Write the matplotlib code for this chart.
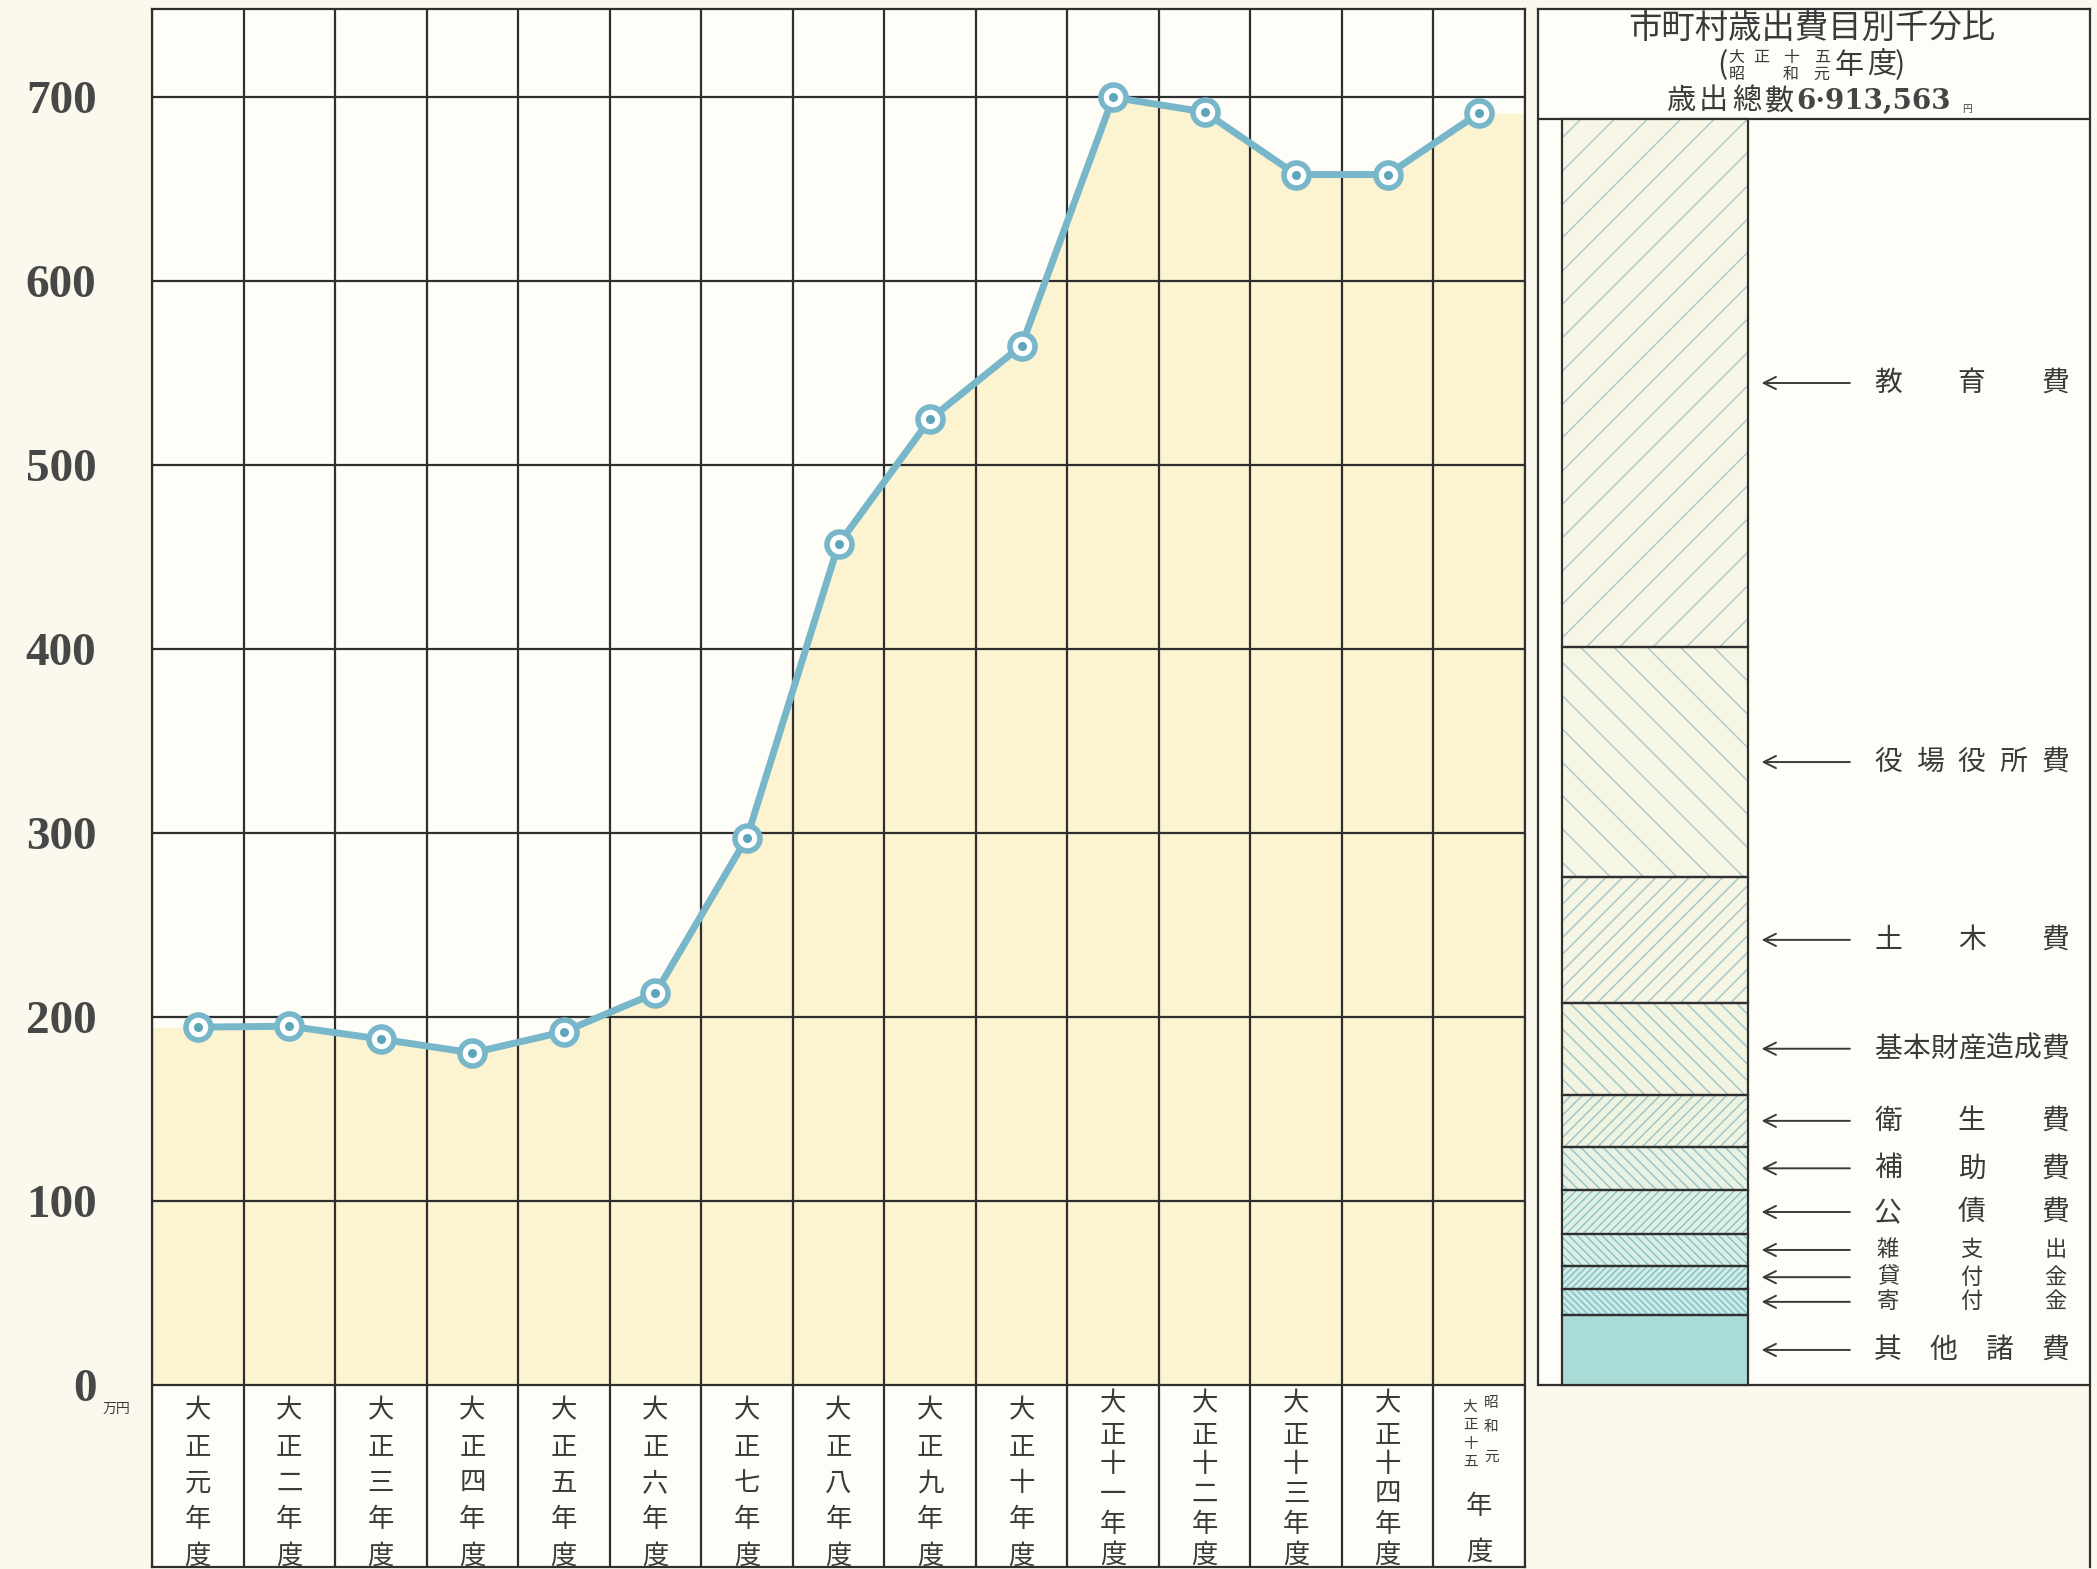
import numpy as np
import matplotlib.pyplot as plt

plt.rcParams['font.family'] = ['Noto Sans CJK JP', 'DejaVu Sans']
plt.rcParams['hatch.linewidth'] = 1.0

# 市町村歳出総額 (万円) by fiscal year
year_labels = ['大正元年度', '大正二年度', '大正三年度', '大正四年度', '大正五年度',
               '大正六年度', '大正七年度', '大正八年度', '大正九年度', '大正十年度',
               '大正十一年度', '大正十二年度', '大正十三年度', '大正十四年度', '年度']
expend = [194.5, 195, 188, 180.5, 192, 213, 297.5, 457, 525, 565,
          700, 692, 658, 658, 691.5]
yticks = [0, 100, 200, 300, 400, 500, 600, 700]

# 大正十五年度(昭和元年度) 歳出費目別千分比
items = ['教育費', '役場役所費', '土木費', '基本財産造成費', '衛生費', '補助費',
         '公債費', '雑支出', '貸付金', '寄付金', '其他諸費']
permille = [417, 182, 99, 73, 41, 34, 35, 25, 18, 21, 55]
total_yen = '6·913,563'

ink = '#3a3a3a'
grid = '#2f2f2f'
teal = '#78b7ca'
teal_dark = '#5da5b8'
W, H = 2097, 1569

fig = plt.figure(figsize=(W / 100, H / 100), dpi=100, facecolor='#fbf9ee')

# ---- main chart ----
ax = fig.add_axes([152 / W, 2 / H, 1373 / W, 1558 / H])
ax.set_facecolor('#fefdf7')
n = len(expend)
ax.set_xlim(0, n)
ax.set_ylim(-99, 748)

x = np.arange(n) + 0.5
ax.fill_between(np.r_[0, x, n], np.r_[expend[0], expend, expend[-1]], 0,
                color='#fcf3d1', lw=0, zorder=0)
ax.hlines(yticks, 0, n, color=grid, lw=1.6, zorder=1)
ax.vlines(np.arange(n + 1), -99, 748, color=grid, lw=1.6, zorder=1)
ax.plot(x, expend, color=teal, lw=5, zorder=3)
ax.plot(x, expend, 'o', ms=18, mfc='white', mec=teal, mew=4, zorder=4)
ax.plot(x, expend, 'o', ms=6.5, mfc=teal_dark, mec='none', zorder=5)

ax.set_xticks([])
ax.set_yticks(yticks)
ax.set_yticklabels([str(v) for v in yticks], fontfamily='Liberation Serif',
                   fontweight='bold', fontsize=34, color='#474747')
ax.tick_params(axis='y', length=0, pad=40)
for s in ax.spines.values():
    s.set_color(grid)
    s.set_linewidth(1.6)
ax.text(-0.026, -13, '万円', transform=ax.get_yaxis_transform(),
        ha='center', va='center', fontsize=10, color=ink)

# year labels, written vertically in each cell
for i, lab in enumerate(year_labels[:-1]):
    if len(lab) == 5:
        ys = np.linspace(-14, -93, 5)
    else:
        ys = np.linspace(-10.5, -92.5, len(lab))
    for ch, yy in zip(lab, ys):
        ax.text(i + 0.5, yy, ch, ha='center', va='center', fontsize=19, color=ink)
# last column: 大正十五 / 昭和元 side by side, then 年度
for ch, yy in zip('大正十五', [-12, -22, -32, -42]):
    ax.text(n - 0.6, yy, ch, ha='center', va='center', fontsize=10.5, color=ink)
for ch, yy in zip('昭和元', [-10, -23, -39]):
    ax.text(n - 0.37, yy, ch, ha='center', va='center', fontsize=10.5, color=ink)
for ch, yy in zip(year_labels[-1], [-66, -91]):
    ax.text(n - 0.5, yy, ch, ha='center', va='center', fontsize=19, color=ink)

# ---- per-mille panel ----
pn = fig.add_axes([1538 / W, 2 / H, 552 / W, 1558 / H])
pn.set_facecolor('none')
pn.set_xlim(0, 1)
pn.set_ylim(-144, 1087)
pn.set_xticks([])
pn.set_yticks([])
pn.axhspan(0, 1087, color='#fefdf8', zorder=0)
for s in pn.spines.values():
    s.set_color(grid)
    s.set_linewidth(1.6)
pn.spines['bottom'].set_visible(False)
pn.spines['left'].set_bounds(0, 1087)
pn.axhline(0, color=grid, lw=1.6, zorder=1)
pn.axhline(1000, color=grid, lw=1.6, zorder=1)

p = np.array(permille)
tops = p.sum() - np.r_[0, np.cumsum(p)[:-1]]
bottoms = tops - p

hatches = ['/', '\\', '//', '\\\\', '///', '\\\\\\', '////', '\\\\\\\\',
           '/////', '\\\\\\\\\\', '']
faces = ['#f7f6e6', '#f6f6e4', '#f4f5e2', '#f2f4e0', '#eef3e0', '#e9f2e2',
         '#e2f0e4', '#dbeee6', '#d3ece6', '#cbe9e5', '#a9dcd7']
hcols = ['#a9c7c9', '#a9c6c8', '#a4c5c8', '#9fc4c7', '#99c3c7', '#92c2c8',
         '#8cc2c8', '#86c1c8', '#80c0c8', '#7bbfc8', '#a9dcd7']
bx, bw = 0.212, 0.337
for v, b, h, fc, hc in zip(p, bottoms, hatches, faces, hcols):
    pn.bar(bx, v, bottom=b, width=bw, color=fc, edgecolor=hc, hatch=h, lw=0, zorder=2)
pn.bar(bx, p, bottom=bottoms, width=bw, color='none', edgecolor=grid, lw=1.6, zorder=3)

for name, b, v in zip(items, bottoms, p):
    yc = b + v / 2
    pn.annotate('', xy=(0.40, yc), xytext=(0.57, yc),
                arrowprops=dict(arrowstyle='->', color=ink, lw=1.4, mutation_scale=22))
    # the three thin bands sit close together, so their labels are set smaller
    fs = 20 if v > 30 else 16
    for ch, xx in zip(name, np.linspace(0.634, 0.937, len(name))):
        pn.text(xx, yc, ch, ha='center', va='center', fontsize=fs, color=ink)

# panel title
pn.text(0.496, 1072, '市町村歳出費目別千分比', ha='center', va='center',
        fontsize=24, color=ink)
pn.text(0.335, 1042, '(', ha='center', va='center', fontsize=22, color=ink)
for ch, xx in zip('大正十五', [0.36, 0.405, 0.458, 0.514]):
    pn.text(xx, 1049, ch, ha='center', va='center', fontsize=11.5, color=ink)
for ch, xx in zip('昭和元', [0.36, 0.458, 0.514]):
    pn.text(xx, 1035.5, ch, ha='center', va='center', fontsize=11.5, color=ink)
pn.text(0.563, 1042, '年', ha='center', va='center', fontsize=21, color=ink)
pn.text(0.622, 1042, '度', ha='center', va='center', fontsize=21, color=ink)
pn.text(0.656, 1042, ')', ha='center', va='center', fontsize=22, color=ink)
for ch, xx in zip('歳出總數', [0.258, 0.318, 0.378, 0.437]):
    pn.text(xx, 1014, ch, ha='center', va='center', fontsize=21, color=ink)
pn.text(0.468, 1014, total_yen, ha='left', va='center', fontfamily='DejaVu Serif',
        fontweight='bold', fontsize=20, color='#454545')
pn.text(0.778, 1008, '円', ha='center', va='center', fontsize=7, color=ink)

fig.savefig('out.png', dpi=100, facecolor=fig.get_facecolor())
